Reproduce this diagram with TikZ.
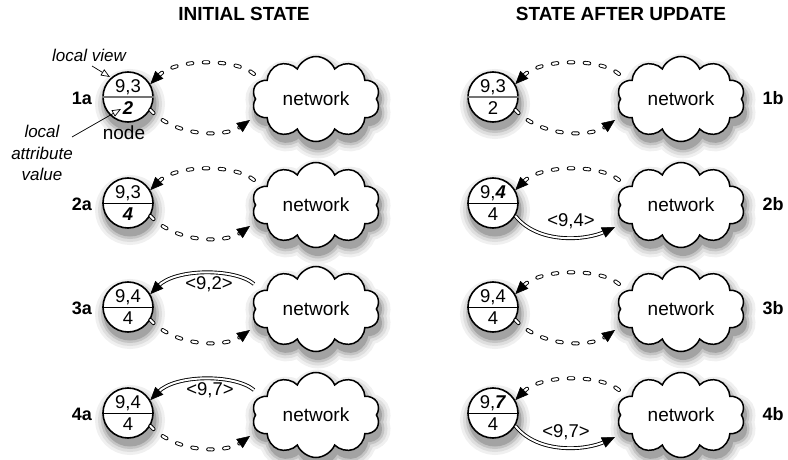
\documentclass[tikz,border=0pt]{standalone}
\usepackage{fontspec}
\setmainfont{Liberation Sans}
\usetikzlibrary{shapes.symbols,arrows.meta,calc}
\newcommand\cnx[2]{\draw[#1] #2;\draw[tipl] #2;}
\begin{document}
\begin{tikzpicture}[x=1pt,y=-1pt,
  shd/.style={
    preaction={draw=black!6,line width=20pt,fill=black!6,transform canvas={xshift=2pt,yshift=-7pt}},
    preaction={draw=black!13,line width=14pt,fill=black!13,transform canvas={xshift=2pt,yshift=-7pt}},
    preaction={draw=black!23,line width=8pt,fill=black!23,transform canvas={xshift=2pt,yshift=-7pt}},
    preaction={draw=black!36,line width=3pt,fill=black!36,transform canvas={xshift=2pt,yshift=-7pt}}},
  nd/.style={circle,draw,line width=1.6pt,fill=white,minimum size=50pt,inner sep=0pt,shd},
  cl/.style={cloud,cloud puffs=10,cloud puff arc=135,cloud ignores aspect,minimum width=128pt,minimum height=85pt,draw,line width=1.5pt,fill=white,shd,font=\fontsize{19}{22}\selectfont,inner sep=0pt},
  num/.style={font=\fontsize{18.5}{20}\selectfont,inner sep=0pt},
  lab/.style={font=\fontsize{18}{20}\selectfont\bfseries,inner sep=0pt},
  ttl/.style={font=\fontsize{19}{22}\selectfont\bfseries,inner sep=0pt},
  note/.style={font=\fontsize{17}{21.5}\selectfont\itshape,align=center,inner sep=0pt},
  dsh/.style={line width=0.9pt,double=white,double distance=2.2pt,line cap=round,dash pattern=on 4.5pt off 11.5pt,shorten >=11pt},
  msg/.style={line width=0.9pt,double=white,double distance=2pt,shorten >=11pt},
  tipl/.style={line width=0.5pt,dash pattern=on 0pt off 3000pt,-{Triangle[length=13pt,width=11pt]}},
  ann/.style={line width=0.7pt,-{Triangle[open,length=9pt,width=7pt]}},
  divg/.style={draw=black!55,line width=1.8pt},
  divb/.style={draw=black,line width=1pt}
]
\useasboundingbox (0,0) rectangle (788,460);

% titles
\node[ttl] (ti) at (244,13.5) {INITIAL STATE};
\node[ttl] (tu) at (621,13.5) {STATE AFTER UPDATE};

% ---------- left column ----------
% row 1a
\node[nd] (c1a) at (128,97) {};
\draw[divg] (c1a.west) -- (c1a.east);
\node[num] (t1a) at (128,87) {9,3};
\node[num] (b1a) at (128,108.5) {\bfseries\itshape 2};
\node[cl] (k1a) at (316,99) {network};
\node[lab] (l1a) at (82,98) {1a};
\coordinate (s1a) at ($(k1a)+(-62,-25)$);
\coordinate (e1a) at ($(k1a)+(-66,21)$);
\cnx{dsh}{(s1a) .. controls +(-19,-16) and +(25,-26) .. (c1a.30)}
\cnx{dsh}{(c1a.-30) .. controls +(25,27) and +(-25,18) .. (e1a)}

% annotations
\node[note] (lv) at (89,55) {local view};
\coordinate (lvs) at (92,66);
\coordinate (lvt) at (110,77);
\draw[ann] (lvs) -- (lvt);
\node[note] (lav) at (42,153) {local\\attribute\\value};
\coordinate (las) at (72,137);
\coordinate (lat) at (121,109);
\draw[ann] (las) -- (lat);
\node[font=\fontsize{19}{22}\selectfont,inner sep=0pt] (nl) at (124,133) {node};

% row 2a
\node[nd] (c2a) at (128,203) {};
\draw[divb] (c2a.west) -- (c2a.east);
\node[num] (t2a) at (128,193) {9,3};
\node[num] (b2a) at (128,214.5) {\bfseries\itshape 4};
\node[cl] (k2a) at (316,205) {network};
\node[lab] (l2a) at (82,204) {2a};
\coordinate (s2a) at ($(k2a)+(-62,-25)$);
\coordinate (e2a) at ($(k2a)+(-66,21)$);
\cnx{dsh}{(s2a) .. controls +(-19,-16) and +(25,-26) .. (c2a.30)}
\cnx{dsh}{(c2a.-30) .. controls +(25,27) and +(-25,18) .. (e2a)}

% row 3a
\node[nd] (c3a) at (128,307) {};
\draw[divb] (c3a.west) -- (c3a.east);
\node[num] (t3a) at (128,297) {9,4};
\node[num] (b3a) at (128,318.5) {4};
\node[cl] (k3a) at (316,309) {network};
\node[lab] (l3a) at (82,308) {3a};
\coordinate (s3a) at ($(k3a)+(-62,-25)$);
\coordinate (e3a) at ($(k3a)+(-66,21)$);
\cnx{msg}{(s3a) .. controls +(-19,-16) and +(25,-26) .. (c3a.30)}
\node[num] (m3a) at (209,284) {<9,2>};
\cnx{dsh}{(c3a.-30) .. controls +(25,27) and +(-25,18) .. (e3a)}

% row 4a
\node[nd] (c4a) at (128,413) {};
\draw[divb] (c4a.west) -- (c4a.east);
\node[num] (t4a) at (128,403) {9,4};
\node[num] (b4a) at (128,424.5) {4};
\node[cl] (k4a) at (316,415) {network};
\node[lab] (l4a) at (82,414) {4a};
\coordinate (s4a) at ($(k4a)+(-62,-25)$);
\coordinate (e4a) at ($(k4a)+(-66,21)$);
\cnx{msg}{(s4a) .. controls +(-19,-16) and +(25,-26) .. (c4a.30)}
\node[num] (m4a) at (210,390) {<9,7>};
\cnx{dsh}{(c4a.-30) .. controls +(25,27) and +(-25,18) .. (e4a)}

% ---------- right column ----------
% row 1b
\node[nd] (c1b) at (493,97) {};
\draw[divg] (c1b.west) -- (c1b.east);
\node[num] (t1b) at (493,87) {9,3};
\node[num] (b1b) at (493,108.5) {2};
\node[cl] (k1b) at (681,99) {network};
\node[lab] (l1b) at (773,98) {1b};
\coordinate (s1b) at ($(k1b)+(-62,-25)$);
\coordinate (e1b) at ($(k1b)+(-66,21)$);
\cnx{dsh}{(s1b) .. controls +(-19,-16) and +(25,-26) .. (c1b.30)}
\cnx{dsh}{(c1b.-30) .. controls +(25,27) and +(-25,18) .. (e1b)}

% row 2b
\node[nd] (c2b) at (493,203) {};
\draw[divb] (c2b.west) -- (c2b.east);
\node[num] (t2b) at (493,193) {9,\textbf{\textit{4}}};
\node[num] (b2b) at (493,214.5) {4};
\node[cl] (k2b) at (681,205) {network};
\node[lab] (l2b) at (773,204) {2b};
\coordinate (s2b) at ($(k2b)+(-62,-25)$);
\coordinate (e2b) at ($(k2b)+(-66,22)$);
\cnx{dsh}{(s2b) .. controls +(-19,-16) and +(25,-26) .. (c2b.30)}
\cnx{msg}{(c2b.-30) .. controls +(22,28) and +(-30,14) .. (e2b)}
\node[num] (m2b) at (571,221) {<9,4>};

% row 3b
\node[nd] (c3b) at (493,307) {};
\draw[divb] (c3b.west) -- (c3b.east);
\node[num] (t3b) at (493,297) {9,4};
\node[num] (b3b) at (493,318.5) {4};
\node[cl] (k3b) at (681,309) {network};
\node[lab] (l3b) at (773,308) {3b};
\coordinate (s3b) at ($(k3b)+(-62,-25)$);
\coordinate (e3b) at ($(k3b)+(-66,21)$);
\cnx{dsh}{(s3b) .. controls +(-19,-16) and +(25,-26) .. (c3b.30)}
\cnx{dsh}{(c3b.-30) .. controls +(25,27) and +(-25,18) .. (e3b)}

% row 4b
\node[nd] (c4b) at (493,413) {};
\draw[divb] (c4b.west) -- (c4b.east);
\node[num] (t4b) at (493,403) {9,\textbf{\textit{7}}};
\node[num] (b4b) at (493,424.5) {4};
\node[cl] (k4b) at (681,415) {network};
\node[lab] (l4b) at (773,414) {4b};
\coordinate (s4b) at ($(k4b)+(-62,-25)$);
\coordinate (e4b) at ($(k4b)+(-66,22)$);
\cnx{dsh}{(s4b) .. controls +(-19,-16) and +(25,-26) .. (c4b.30)}
\cnx{msg}{(c4b.-30) .. controls +(22,28) and +(-30,14) .. (e4b)}
\node[num] (m4b) at (566,432) {<9,7>};
\end{tikzpicture}
\end{document}
